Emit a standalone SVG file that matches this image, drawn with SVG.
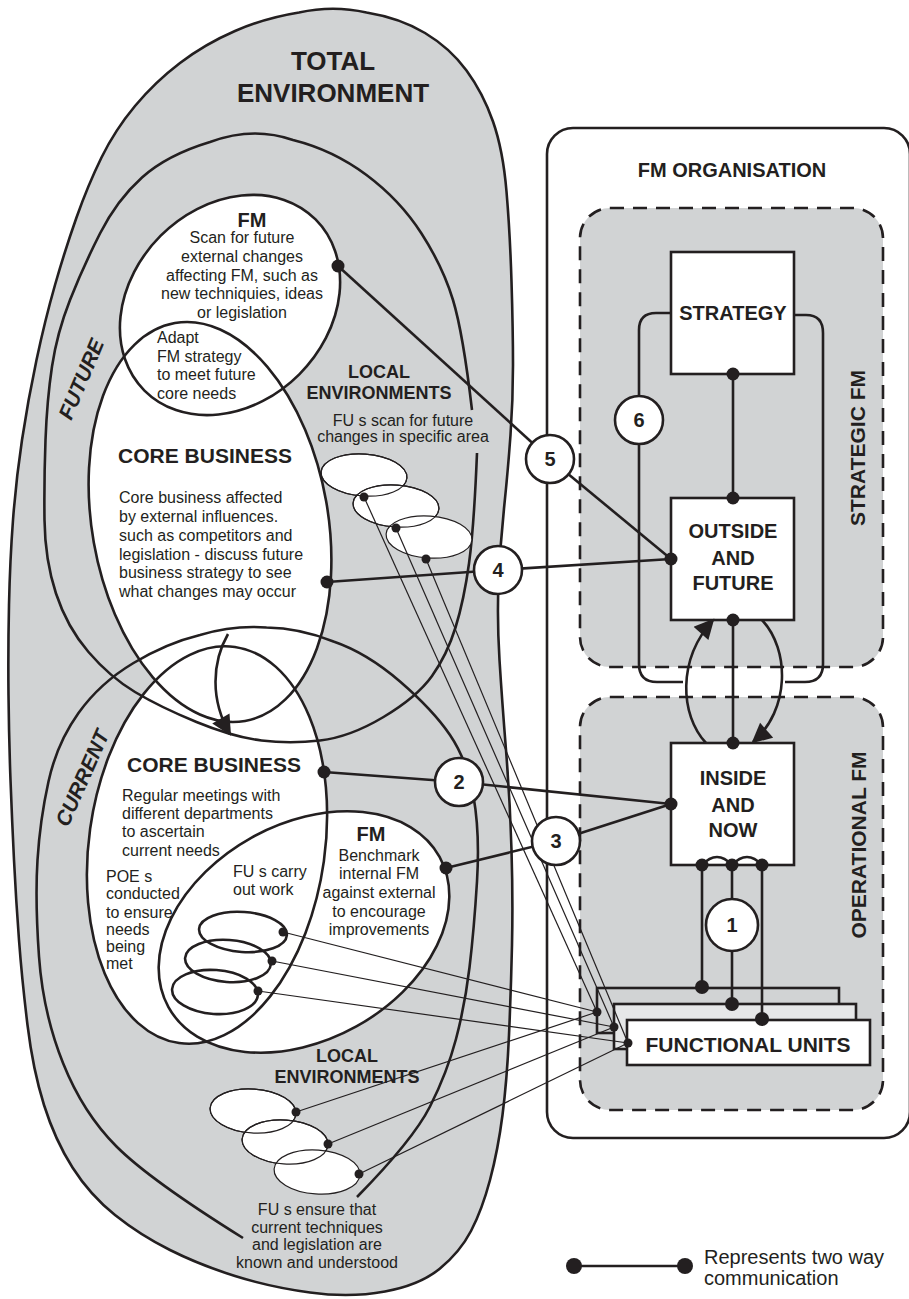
<svg xmlns="http://www.w3.org/2000/svg" width="909" height="1299" viewBox="0 0 909 1299">
<defs>
<style>
.ln{fill:none;stroke:#231f20;stroke-width:2.6}
.tl{fill:none;stroke:#231f20;stroke-width:1.2}
.te{fill:#fff;stroke:#231f20;stroke-width:1.2}
.dot{fill:#231f20}
text{font-family:"Liberation Sans",Arial,Helvetica,sans-serif;fill:#231f20}
.bd{font-size:16px}
.h{font-weight:bold}
.c{text-anchor:middle}
.num{font-weight:bold;font-size:20px;text-anchor:middle}
.circ{fill:#fff;stroke:#231f20;stroke-width:2.6}
.dash{fill:#d1d3d4;stroke:#231f20;stroke-width:2.6;stroke-dasharray:14 9}
.box{fill:#fff;stroke:#231f20;stroke-width:2.6}
</style>
<marker id="ah" viewBox="0 0 10 10" refX="9" refY="5" markerUnits="userSpaceOnUse" markerWidth="22" markerHeight="20" orient="auto"><path d="M0,0 L10,5 L0,10 z" fill="#231f20"/></marker>
</defs>
<rect width="909" height="1299" fill="#fff"/>

<g id="fm-organisation">
<rect x="547" y="128" width="363" height="1010" rx="26" fill="#fff" stroke="#231f20" stroke-width="2.6"/>
<text class="h c" font-size="20" x="732" y="177">FM ORGANISATION</text>
</g>
<g id="strategic-fm">
<rect x="580" y="208" width="303" height="459" rx="30" class="dash"/>
<text class="h c" font-size="21" transform="translate(865 448) rotate(-90)">STRATEGIC FM</text>
</g>
<g id="operational-fm">
<rect x="580" y="697" width="303" height="413" rx="30" class="dash"/>
<text class="h c" font-size="21" transform="translate(866 845) rotate(-90)">OPERATIONAL FM</text>
</g>

<g id="total-environment">
<path fill="#d1d3d4" stroke="#231f20" stroke-width="2.6" d="M366.5,12.5 Q400,18 425,33 Q450,48 466.5,70.5 Q483,93 493,121.5 Q503,150 506.5,191.5 Q510,233 511.5,281.5 Q513,330 513,365 Q513,400 510.5,435 Q508,470 504,508.5 Q500,547 498.5,583.5 Q497,620 499.5,660 Q502,700 506,750 Q510,800 511.5,850 Q513,900 512,945 Q511,990 509,1035 Q507,1080 502.5,1115 Q498,1150 490,1180 Q482,1210 471,1231 Q460,1252 440,1268.5 Q420,1285 385,1291.5 Q350,1298 310,1292.5 Q270,1287 235,1276 Q200,1265 170,1250 Q140,1235 115,1215 Q90,1195 72.5,1167.5 Q55,1140 44,1105 Q33,1070 27.5,1025 Q22,980 19,940 Q16,900 14,860 Q12,820 10.5,780 Q9,740 8.5,695 Q8,650 9,605 Q10,560 13,520 Q16,480 22,440 Q28,400 36.5,360 Q45,320 55,285 Q65,250 76.5,217.5 Q88,185 101.5,157.5 Q115,130 135,106 Q155,82 180,63 Q205,44 235,31 Q265,18 299,12.5 Q333,5 366.5,12.5 Z"/>
<text class="h c" font-size="26" x="333" y="70">TOTAL</text>
<text class="h c" font-size="26" x="333" y="102">ENVIRONMENT</text>
</g>

<g id="ellipse-fills" fill="#fff">
<ellipse cx="210" cy="522" rx="118" ry="202" transform="rotate(-10 210 522)"/>
<ellipse cx="230" cy="305" rx="121" ry="98" transform="rotate(-45 230 305)"/>
<ellipse cx="207" cy="845" rx="118" ry="200" transform="rotate(8 207 845)"/>
<ellipse cx="304" cy="932" rx="155" ry="108" transform="rotate(-29 304 932)"/>
</g>

<g id="future">
<path class="ln" d="M477,453 Q474,527 469,563.5 Q464,600 455.5,627.5 Q447,655 432,676 Q417,697 383.5,717 Q350,737 320,740.5 Q290,744 261.5,740.5 Q233,737 196.5,722 Q160,707 135,692 Q110,677 88.5,652 Q67,627 56,593.5 Q45,560 44.5,520 Q44,480 45.5,440 Q47,400 52,366.5 Q57,333 70,300 Q83,267 100,233.5 Q117,200 142,177.5 Q167,155 210,142 Q253,126 293,140 Q333,150 366.5,175 Q400,200 421.5,233.5 Q443,267 453,300 Q463,333 472,410"/>
<text class="h c" font-size="21" font-style="italic" transform="translate(81 379) rotate(-67)" y="7.5">FUTURE</text>
</g>

<g id="current">
<path class="ln" d="M243,1238 Q150,1180 116.5,1146.5 Q83,1113 63,1063 Q43,1013 39,956.5 Q35,900 37.5,860 Q40,820 48.5,781.5 Q57,743 78.5,713 Q100,683 133.5,663 Q167,643 200,635 Q233,625 266.5,627.5 Q300,628 333.5,641.5 Q367,653 400,681.5 Q433,710 450,735 Q467,760 473.5,796.5 Q480,833 477,881.5 Q474,930 469.5,967.5 Q465,1005 456,1039 Q447,1073 430,1106.5 Q413,1140 357,1197"/>
<text class="h c" font-size="21" font-style="italic" transform="translate(82 778) rotate(-66)" y="7.5">CURRENT</text>
</g>

<g id="future-core-business">
<ellipse class="ln" cx="210" cy="522" rx="118" ry="202" transform="rotate(-10 210 522)"/>
<text class="h c" font-size="21" x="205" y="463">CORE BUSINESS</text>
<text class="bd" x="119" y="503">Core business affected</text>
<text class="bd" x="119" y="522">by external influences.</text>
<text class="bd" x="119" y="541">such as competitors and</text>
<text class="bd" x="119" y="560">legislation - discuss future</text>
<text class="bd" x="119" y="578">business strategy to see</text>
<text class="bd" x="119" y="597">what changes may occur</text>
</g>

<g id="future-fm">
<ellipse class="ln" cx="230" cy="305" rx="121" ry="98" transform="rotate(-45 230 305)"/>
<text class="h c" font-size="20" x="252" y="227">FM</text>
<text class="bd c" x="242" y="243">Scan for future</text>
<text class="bd c" x="242" y="262">external changes</text>
<text class="bd c" x="242" y="281">affecting FM, such as</text>
<text class="bd c" x="242" y="299">new techniquies, ideas</text>
<text class="bd c" x="242" y="318">or legislation</text>
<text class="bd" x="157" y="343">Adapt</text>
<text class="bd" x="157" y="362">FM strategy</text>
<text class="bd" x="157" y="380">to meet future</text>
<text class="bd" x="157" y="399">core needs</text>
</g>

<g id="local-environments-future">
<text class="h c" font-size="18" x="379" y="378">LOCAL</text>
<text class="h c" font-size="18" x="379" y="399">ENVIRONMENTS</text>
<text class="bd c" x="403" y="426">FU s scan for future</text>
<text class="bd c" x="403" y="442">changes in specific area</text>
<ellipse class="te" cx="364" cy="475" rx="43" ry="21" transform="rotate(4 364 475)"/>
<ellipse class="te" cx="396" cy="506" rx="43" ry="21" transform="rotate(4 396 506)"/>
<ellipse class="te" cx="429" cy="537" rx="43" ry="21" transform="rotate(4 429 537)"/>
<ellipse class="tl" cx="364" cy="475" rx="43" ry="21" transform="rotate(4 364 475)"/>
<ellipse class="tl" cx="396" cy="506" rx="43" ry="21" transform="rotate(4 396 506)"/>
</g>

<g id="current-core-business">
<ellipse class="ln" cx="207" cy="845" rx="118" ry="200" transform="rotate(8 207 845)"/>
<text class="h c" font-size="21" x="214" y="772">CORE BUSINESS</text>
<text class="bd" x="122" y="801">Regular meetings with</text>
<text class="bd" x="122" y="819">different departments</text>
<text class="bd" x="122" y="837">to ascertain</text>
<text class="bd" x="122" y="856">current needs</text>
<text class="bd" x="106" y="882">POE s</text>
<text class="bd" x="106" y="899">conducted</text>
<text class="bd" x="106" y="918">to ensure</text>
<text class="bd" x="106" y="935">needs</text>
<text class="bd" x="106" y="952">being</text>
<text class="bd" x="106" y="969">met</text>
</g>

<g id="current-fm">
<ellipse class="ln" cx="304" cy="932" rx="155" ry="108" transform="rotate(-29 304 932)"/>
<text class="h c" font-size="20" x="371" y="841">FM</text>
<text class="bd c" x="379" y="861">Benchmark</text>
<text class="bd c" x="379" y="879">internal FM</text>
<text class="bd c" x="379" y="898">against external</text>
<text class="bd c" x="379" y="917">to encourage</text>
<text class="bd c" x="379" y="935">improvements</text>
<text class="bd" x="233" y="877">FU s carry</text>
<text class="bd" x="233" y="895">out work</text>
<ellipse class="ln" cx="243" cy="932" rx="44" ry="20" transform="rotate(4 243 932)"/>
<ellipse class="ln" cx="228" cy="961" rx="43" ry="21" transform="rotate(4 228 961)"/>
<ellipse class="ln" cx="215" cy="992" rx="43" ry="22" transform="rotate(4 215 992)"/>
</g>

<g id="local-environments-current">
<text class="h c" font-size="18" x="347" y="1062">LOCAL</text>
<text class="h c" font-size="18" x="347" y="1083">ENVIRONMENTS</text>
<ellipse class="te" cx="253" cy="1111" rx="43" ry="22" transform="rotate(4 253 1111)"/>
<ellipse class="te" cx="285" cy="1142" rx="43" ry="22" transform="rotate(4 285 1142)"/>
<ellipse class="te" cx="317" cy="1172" rx="43" ry="22" transform="rotate(4 317 1172)"/>
<ellipse class="tl" cx="253" cy="1111" rx="43" ry="22" transform="rotate(4 253 1111)"/>
<ellipse class="tl" cx="285" cy="1142" rx="43" ry="22" transform="rotate(4 285 1142)"/>
<text class="bd c" x="317" y="1215">FU s ensure that</text>
<text class="bd c" x="317" y="1233">current techniques</text>
<text class="bd c" x="317" y="1250">and legislation are</text>
<text class="bd c" x="317" y="1268">known and understood</text>
</g>

<g id="strategy">
<rect class="box" x="671" y="252" width="123" height="122"/>
<text class="h c" font-size="20" x="733" y="320">STRATEGY</text>
</g>
<g id="outside-and-future">
<rect class="box" x="671" y="498" width="123" height="122"/>
<text class="h c" font-size="20" x="733" y="538">OUTSIDE</text>
<text class="h c" font-size="20" x="733" y="565">AND</text>
<text class="h c" font-size="20" x="733" y="590">FUTURE</text>
</g>
<g id="inside-and-now">
<rect class="box" x="671" y="743" width="123" height="122"/>
<text class="h c" font-size="20" x="733" y="785">INSIDE</text>
<text class="h c" font-size="20" x="733" y="812">AND</text>
<text class="h c" font-size="20" x="733" y="837">NOW</text>
</g>
<g id="functional-units">
<rect x="597" y="988" width="242" height="45" fill="#d1d3d4" stroke="#231f20" stroke-width="2.6"/>
<rect x="614" y="1004" width="242" height="45" fill="#e6e7e8" stroke="#231f20" stroke-width="2.6"/>
<rect class="box" x="627" y="1020" width="243" height="45"/>
<text class="h c" font-size="21" x="748" y="1052">FUNCTIONAL UNITS</text>
</g>

<g id="connectors">
<g class="tl">
<line x1="364" y1="497" x2="597" y2="1012"/>
<line x1="396" y1="528" x2="614" y2="1027"/>
<line x1="426" y1="559" x2="628" y2="1043"/>
<line x1="283" y1="932" x2="597" y2="1012"/>
<line x1="272" y1="961" x2="614" y2="1027"/>
<line x1="258" y1="991" x2="628" y2="1043"/>
<line x1="296" y1="1112" x2="597" y2="1012"/>
<line x1="328" y1="1144" x2="614" y2="1027"/>
<line x1="359" y1="1174" x2="628" y2="1043"/>
</g>
<g class="ln">
<line x1="338" y1="266" x2="550" y2="459"/>
<line x1="550" y1="459" x2="671" y2="559"/>
<line x1="327" y1="582" x2="498" y2="570"/>
<line x1="498" y1="570" x2="671" y2="559"/>
<line x1="324" y1="772" x2="459" y2="782"/>
<line x1="459" y1="782" x2="671" y2="804"/>
<line x1="446" y1="868" x2="556" y2="841"/>
<line x1="556" y1="841" x2="671" y2="804"/>
<line x1="733" y1="374" x2="733" y2="498"/>
<line x1="733" y1="620" x2="733" y2="743"/>
<path d="M671,313 L656,313 Q639,313 639,330 L639,664 Q639,682 657,682 L683,682"/>
<path d="M794,315 L806,315 Q823,315 823,333 L823,664 Q823,682 805,682 L785,682"/>
<path d="M706,743 C680,715 677,660 713,620" marker-end="url(#ah)"/>
<path d="M762,620 C790,650 790,710 753,742" marker-end="url(#ah)"/>
<path d="M228,634 C212,662 210,700 230,734" marker-end="url(#ah)"/>
<path d="M702,865 Q717,849 732,865 Q747,849 762,865"/>
<line x1="702" y1="865" x2="702" y2="987"/>
<line x1="732" y1="865" x2="732" y2="1004"/>
<line x1="762" y1="865" x2="762" y2="1019"/>
</g>
<g class="dot">
<circle cx="338" cy="266" r="6.5"/>
<circle cx="327" cy="582" r="6.5"/>
<circle cx="324" cy="772" r="6.5"/>
<circle cx="446" cy="868" r="6.5"/>
<circle cx="671" cy="559" r="6.5"/>
<circle cx="671" cy="804" r="6.5"/>
<circle cx="733" cy="374" r="6.5"/>
<circle cx="733" cy="498" r="6.5"/>
<circle cx="733" cy="620" r="6.5"/>
<circle cx="733" cy="743" r="6.5"/>
<circle cx="702" cy="865" r="6.5"/>
<circle cx="732" cy="865" r="6.5"/>
<circle cx="762" cy="865" r="6.5"/>
<circle cx="702" cy="987" r="7"/>
<circle cx="732" cy="1004" r="7"/>
<circle cx="762" cy="1019" r="7"/>
<circle cx="364" cy="497" r="4.5"/>
<circle cx="396" cy="528" r="4.5"/>
<circle cx="426" cy="559" r="4.5"/>
<circle cx="283" cy="932" r="4.5"/>
<circle cx="272" cy="961" r="4.5"/>
<circle cx="258" cy="991" r="4.5"/>
<circle cx="296" cy="1112" r="4.5"/>
<circle cx="328" cy="1144" r="4.5"/>
<circle cx="359" cy="1174" r="4.5"/>
<circle cx="597" cy="1012" r="4.5"/>
<circle cx="614" cy="1027" r="4.5"/>
<circle cx="628" cy="1043" r="4.5"/>
</g>
</g>

<g id="circle-6"><circle class="circ" cx="639" cy="420" r="24"/><text class="num" x="639" y="427">6</text></g>
<g id="circle-5"><circle class="circ" cx="550" cy="459" r="24"/><text class="num" x="550" y="466">5</text></g>
<g id="circle-4"><circle class="circ" cx="498" cy="570" r="24"/><text class="num" x="498" y="577">4</text></g>
<g id="circle-2"><circle class="circ" cx="459" cy="782" r="24"/><text class="num" x="459" y="789">2</text></g>
<g id="circle-3"><circle class="circ" cx="556" cy="841" r="24"/><text class="num" x="556" y="848">3</text></g>
<g id="circle-1"><circle class="circ" cx="732" cy="925" r="26"/><text class="num" x="732" y="932">1</text></g>

<g id="legend">
<line class="ln" x1="574" y1="1266" x2="685" y2="1266"/>
<circle class="dot" cx="574" cy="1266" r="8"/>
<circle class="dot" cx="685" cy="1266" r="8"/>
<text font-size="20" x="704" y="1264">Represents two way</text>
<text font-size="20" x="704" y="1285">communication</text>
</g>
</svg>
